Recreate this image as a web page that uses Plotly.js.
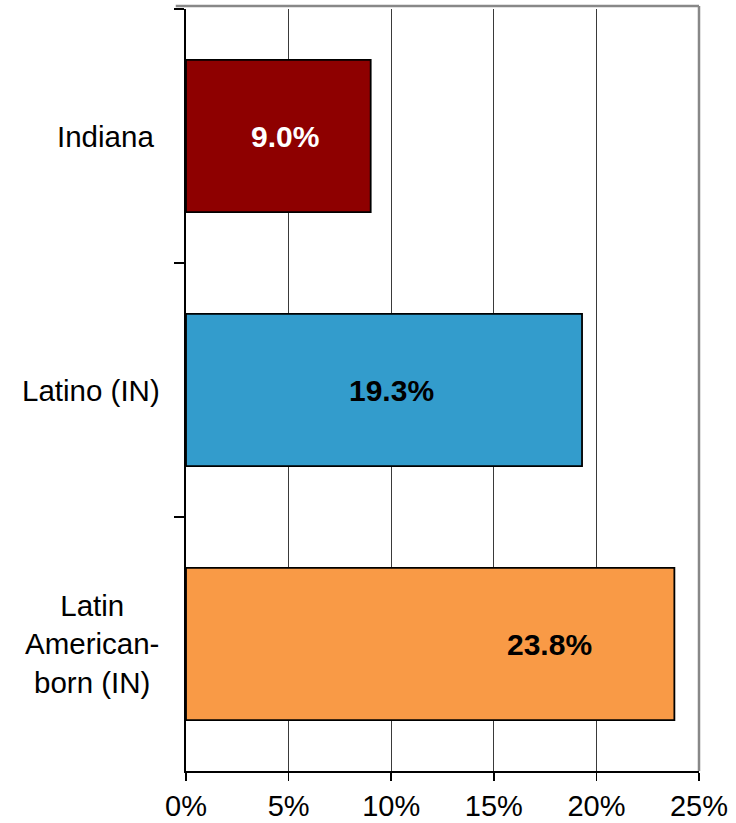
<!DOCTYPE html>
<html>
<head>
<meta charset="utf-8">
<script src="https://cdn.plot.ly/plotly-3.0.1.min.js"></script>
<style>
  html, body { margin: 0; padding: 0; background: #fff; }
  #chart { width: 736px; height: 823px; }
</style>
</head>
<body>
<div id="chart"></div>
<script>
// ---- Data ----
const categories = ['Indiana', 'Latino (IN)', 'Latin American-born (IN)'];
const categoryLabels = ['Indiana', 'Latino (IN)', 'Latin<br>American-<br>born (IN)'];
const values = [9.0, 19.3, 23.8];
const valueLabels = ['9.0%', '19.3%', '23.8%'];
const barColors = ['#8E0000', '#339CCC', '#F99A46'];
const labelColors = ['#FFFFFF', '#000000', '#000000'];
const labelX = [4.8, 10.0, 17.7];           // where each value label sits (in % units)
const categoryLabelCenterPx = [-81, -95, -94]; // horizontal offset of category labels from plot left
const xTickVals = [0, 5, 10, 15, 20, 25];
const xTickText = ['0%', '5%', '10%', '15%', '20%', '25%'];

const FONT = '"Liberation Sans", Arial, Helvetica, sans-serif';

const trace = {
  type: 'bar',
  orientation: 'h',
  y: categories,
  x: values,
  marker: { color: barColors, line: { color: '#000000', width: 1.8 } },
  hoverinfo: 'none',
  showlegend: false
};

const annotations = [];
categories.forEach((c, i) => {
  annotations.push({
    x: labelX[i], y: c, xref: 'x', yref: 'y',
    text: '<b>' + valueLabels[i] + '</b>',
    showarrow: false, xanchor: 'center', yanchor: 'middle',
    font: { family: FONT, size: 30, color: labelColors[i] }
  });
  annotations.push({
    x: 0, y: c, xref: 'paper', yref: 'y',
    xshift: categoryLabelCenterPx[i],
    text: categoryLabels[i],
    showarrow: false, xanchor: 'center', yanchor: 'middle', align: 'center',
    font: { family: FONT, size: 29.5, color: '#000000' }
  });
});

const layout = {
  width: 736, height: 823,
  margin: { l: 186, r: 37, t: 9, b: 52 },
  paper_bgcolor: '#ffffff',
  plot_bgcolor: '#ffffff',
  bargap: 0.4,
  font: { family: FONT, size: 29.5, color: '#000000' },
  xaxis: {
    range: [0, 25],
    tickvals: xTickVals,
    ticktext: xTickText,
    showgrid: true, gridcolor: '#3a3a3a', gridwidth: 1,
    zeroline: false,
    showline: true, linecolor: '#000000', linewidth: 2,
    ticks: 'outside', ticklen: 8, tickwidth: 1.5, tickcolor: '#000000',
    tickfont: { family: FONT, size: 29, color: '#000000' },
    fixedrange: true
  },
  yaxis: {
    type: 'category',
    categoryorder: 'array', categoryarray: categories,
    range: [2.5, -0.5],
    showgrid: false, zeroline: false,
    showline: true, linecolor: '#000000', linewidth: 2,
    ticks: 'outside', tickson: 'boundaries', ticklen: 10, tickwidth: 1.5, tickcolor: '#000000',
    showticklabels: false,
    fixedrange: true
  },
  shapes: [
    { type: 'line', xref: 'paper', yref: 'paper', x0: -0.02, x1: 1,
      ysizemode: 'pixel', yanchor: 1, y0: 3, y1: 3,
      line: { color: '#888888', width: 2.5 } },
    { type: 'line', xref: 'paper', yref: 'paper', x0: 1, x1: 1,
      ysizemode: 'pixel', yanchor: 1, y0: -762, y1: 3,
      line: { color: '#888888', width: 2.5 } }
  ],
  annotations: annotations
};

Plotly.newPlot('chart', [trace], layout, { displayModeBar: false, staticPlot: true });
</script>
</body>
</html>
